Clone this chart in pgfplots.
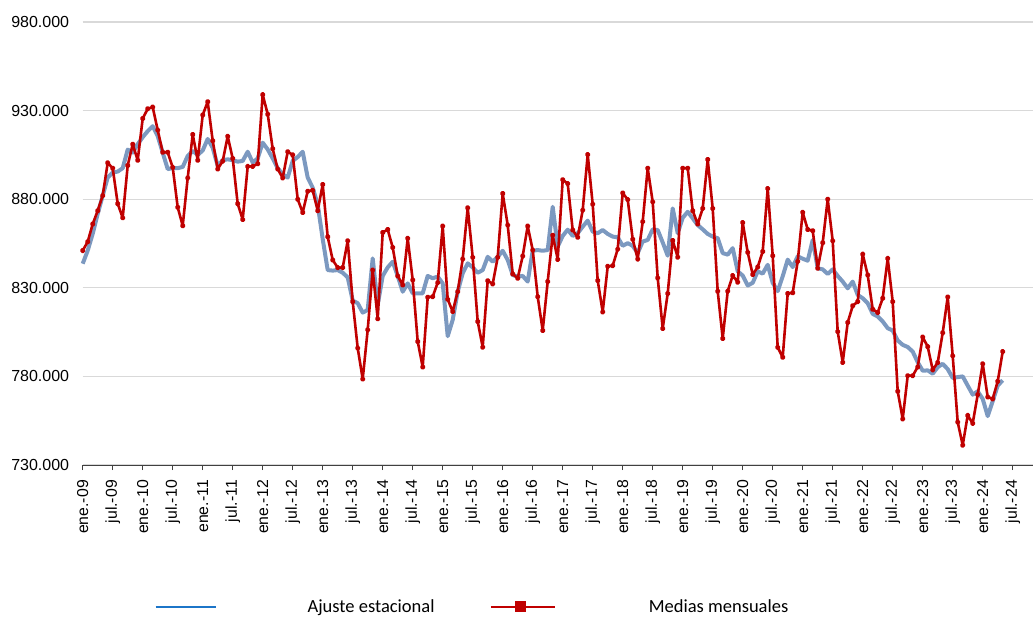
\documentclass[border=0pt]{standalone}
\usepackage{fontspec}
\setmainfont{Liberation Sans}
\newfontfamily\legfont{Carlito}
\usepackage{pgfplots}
\usepackage{pgfplotstable}
\pgfplotsset{compat=1.18}
\definecolor{serieblue}{RGB}{124,153,192}
\definecolor{legblue}{RGB}{28,117,200}
\definecolor{seriered}{RGB}{192,0,0}
\definecolor{gridgray}{RGB}{217,217,217}
\definecolor{axisgray}{RGB}{64,64,64}
\pgfplotstableread{
m ma mm
0 843.6 851
1 851 856
2 860.5 866
3 871.7 873.5
4 882 882
5 892.2 900.5
6 895 897.5
7 895.6 877.5
8 897.5 869.5
9 908 899
10 906.3 911
11 911 902
12 915 925.5
13 918.4 931
14 921.2 932
15 915.6 919
16 906.3 906.5
17 897 906.5
18 897.5 898
19 897.5 875.5
20 898.2 865
21 904.4 892
22 907.2 916.5
23 905 902
24 907.5 927.5
25 914 935
26 909 913
27 898.8 897
28 902 901.5
29 902.5 915.5
30 902 903
31 901.2 877.5
32 901.6 868.5
33 906.8 898.5
34 900.7 898.5
35 903 900
36 911.9 939
37 908.1 928
38 903 908.5
39 897.5 897
40 894.1 892
41 892.2 906.8
42 901.6 905
43 903.8 880
44 906.8 872.5
45 892.2 884.5
46 886.5 885
47 877 873.5
48 857.5 888.3
49 840 858.8
50 839.7 845.7
51 840 841.4
52 838.5 841.4
53 835.9 856.5
54 822.8 822.2
55 821.3 796
56 816 778.5
57 817.5 806.3
58 846.6 840
59 820.3 812.5
60 836.7 861.2
61 841.5 862.9
62 844.7 852.8
63 836.7 836.7
64 827.8 831.6
65 832.5 857.9
66 826.9 834.4
67 826.9 799.7
68 826.9 785.3
69 836.7 824.7
70 835.4 825
71 836.3 832.9
72 832.5 864.8
73 802.7 823.5
74 811.9 816.6
75 827.8 827.8
76 838.2 846.2
77 843.8 875.1
78 841.5 847.2
79 838.5 811
80 840 796.5
81 847.5 834
82 844.7 832.2
83 847.5 847.2
84 850.9 883.2
85 845.7 865.4
86 837.2 837.8
87 836.3 835.4
88 836.7 847.9
89 833.5 864.8
90 850.9 851.3
91 851.3 825
92 850.9 805.9
93 851.3 833.5
94 875.7 859.7
95 853.2 846
96 859.3 891
97 862.8 888.8
98 859.3 862.6
99 860.8 858.5
100 864.5 873.8
101 867.9 905.2
102 861.7 877.2
103 860.8 834.1
104 862.6 816.4
105 860.4 842.1
106 858.9 842.5
107 858.5 851.8
108 853.7 883.5
109 855.2 879.8
110 853.7 857.4
111 849.6 846.2
112 856.1 867.3
113 857 897.5
114 863 878.5
115 862.6 835.6
116 855.6 807
117 848.1 826.8
118 874.8 856.7
119 860.8 847.3
120 869.5 897.5
121 872.9 897.5
122 869.2 873.5
123 865.4 866
124 863 874.8
125 860.4 902.4
126 858.9 874.8
127 858 828.1
128 849.6 801.4
129 848.7 828.1
130 852.4 836.9
131 839.3 833.2
132 836.9 866.8
133 831.3 850
134 832.8 837.5
135 839.3 841.7
136 838 850.5
137 843 886
138 832.8 848.1
139 828.1 796.4
140 836.5 790.8
141 845.9 826.8
142 841.7 827.2
143 847.8 844.9
144 846.4 872.6
145 845.3 862.9
146 857 862.2
147 841 841
148 840.4 855.4
149 837.8 880
150 840.4 856.5
151 836.7 805.3
152 833.5 787.9
153 829.7 810.4
154 833.5 819.8
155 826 822.2
156 824.1 849
157 821.3 837.2
158 815.3 817.9
159 813.8 816
160 811 824.1
161 807.2 846.6
162 805.9 822.2
163 800.3 771.6
164 797.8 756
165 796.6 780.4
166 794 780.4
167 788 785.3
168 783.2 802.2
169 783.4 796.8
170 781.5 783.7
171 785.2 787.8
172 787.1 804.6
173 784.1 824.8
174 779.1 791.6
175 779.6 754.2
176 780 741.2
177 774.8 758
178 769.7 753.5
179 771.6 769.7
180 767.3 787.1
181 757.6 768.4
182 766 767.3
183 774.8 777.2
184 777.8 794
}\datatable
\begin{document}
\begin{tikzpicture}
\begin{axis}[
  scale only axis, width=950bp, height=443bp,
  xmin=0, xmax=190, ymin=730, ymax=980,
  axis lines*=left,
  y axis line style={draw=none},
  x axis line style={draw=axisgray, line width=1bp},
  ytick={730,780,830,880,930,980},
  yticklabels={730.000,780.000,830.000,880.000,930.000,980.000},
  ytick style={draw=none},
  ymajorgrids, grid style={draw=gridgray, line width=1.3bp},
  xtick={0,6,...,186},
  xticklabels={ene.-09,jul.-09,ene.-10,jul.-10,ene.-11,jul.-11,ene.-12,jul.-12,ene.-13,jul.-13,ene.-14,jul.-14,ene.-15,jul.-15,ene.-16,jul.-16,ene.-17,jul.-17,ene.-18,jul.-18,ene.-19,jul.-19,ene.-20,jul.-20,ene.-21,jul.-21,ene.-22,jul.-22,ene.-23,jul.-23,ene.-24,jul.-24},
  xtick align=outside, major tick length=5bp,
  xtick style={draw=axisgray, line width=1bp},
  xticklabel shift=10bp,
  xticklabel style={rotate=90, anchor=east, inner sep=0pt, font=\fontsize{15.8bp}{18bp}\selectfont},
  yticklabel style={anchor=east, inner sep=0pt, xshift=-13.4bp, font=\fontsize{16bp}{19bp}\selectfont},
  clip=false,
  legend columns=2,
  legend style={at={(0.0751,-0.3205)}, anchor=west, draw=none, fill=none, inner sep=0pt,
    font=\legfont\fontsize{18.5bp}{21bp}\selectfont,
    nodes={inner sep=2bp},
    /tikz/every even column/.append style={column sep=53bp}},
]
\addplot[color=serieblue, line width=4bp, line join=round, forget plot] table[x=m, y=ma] {\datatable};
\addplot[color=seriered, line width=2.6bp, line join=round, mark=*, mark size=1.5bp, forget plot] table[x=m, y=mm] {\datatable};
\addlegendimage{legend image code/.code={\draw[draw=legblue, line width=2.6bp] (0bp,0bp) -- (60bp,0bp); \path[draw=none,fill=none] (0bp,0bp) -- (150bp,0bp);}}
\addlegendentry{Ajuste estacional}
\addlegendimage{legend image code/.code={\draw[draw=seriered, line width=2.6bp] (0bp,0bp) -- (64bp,0bp); \fill[fill=seriered,draw=none] (24.5bp,-5.5bp) rectangle (35.5bp,5.5bp); \path[draw=none,fill=none] (0bp,0bp) -- (156bp,0bp);}}
\addlegendentry{Medias mensuales}
\end{axis}
\path ([xshift=-82.7bp,yshift=-154bp]current axis.south west) rectangle ([xshift=3.3bp,yshift=22bp]current axis.north east);
\end{tikzpicture}
\end{document}
